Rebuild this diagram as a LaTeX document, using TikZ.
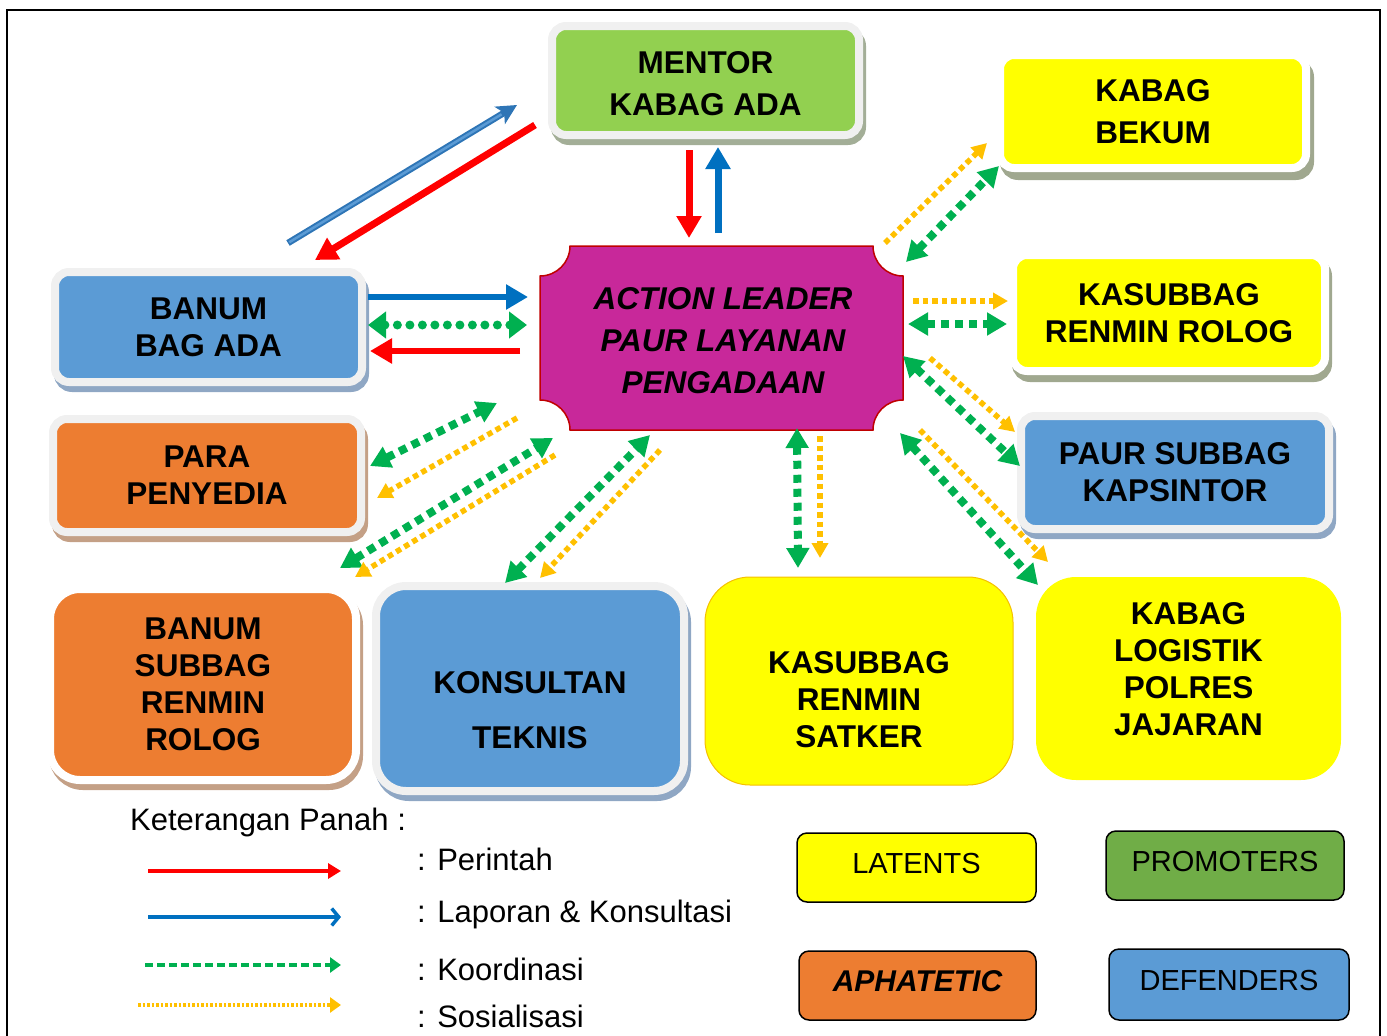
\documentclass[tikz,border=0pt]{standalone}
\usepackage{fontspec}
\setmainfont{Liberation Sans}
\usetikzlibrary{arrows.meta,shadows,calc}
\definecolor{cgreenbox}{HTML}{92D050}
\definecolor{cbluebox}{HTML}{5B9BD5}
\definecolor{corangebox}{HTML}{ED7D31}
\definecolor{cyellowbox}{HTML}{FFFF00}
\definecolor{cmag}{HTML}{C8289A}
\definecolor{cdarkred}{HTML}{C00000}
\definecolor{cprom}{HTML}{70AD47}
\definecolor{cred}{HTML}{FF0000}
\definecolor{cblue}{HTML}{0070C0}
\definecolor{cbluedark}{HTML}{2E75B6}
\definecolor{cgreenarr}{HTML}{00B050}
\definecolor{cyellarr}{HTML}{FFC000}
\definecolor{rimgray}{HTML}{F0F0F0}
\definecolor{shgreen}{HTML}{A3AE97}
\definecolor{shblue}{HTML}{8FA7C4}
\definecolor{shorange}{HTML}{C4A086}
\definecolor{shyellow}{HTML}{A0A88F}
\definecolor{satkerline}{HTML}{F5C000}
\newcommand\bxfont{\bfseries\fontsize{31.5}{37}\selectfont}
\newcommand\bxfontw{\bfseries\fontsize{31.5}{42}\selectfont}
\newcommand\alfont{\bfseries\itshape\fontsize{31.5}{42}\selectfont}
\newcommand\lgfont{\fontsize{29}{34}\selectfont}
\newcommand\kyfont{\fontsize{31}{37}\selectfont}
\begin{document}
\begin{tikzpicture}[x=1pt,y=1pt,
  panel/.style={rectangle, rounded corners=14pt, line width=8pt, outer sep=0pt, inner sep=0pt, align=center, font=\bxfont},
  shad/.style={drop shadow={shadow xshift=3pt, shadow yshift=-6pt, fill=#1, draw=#1, line width=8pt, opacity=1}},
  bigpanel/.style={rectangle, outer sep=0pt, inner sep=0pt, align=center},
  txt/.style={align=center, font=\bxfont, inner sep=0pt},
  legbox/.style={rectangle, rounded corners=10pt, draw=black, line width=1.5pt, minimum width=239pt, minimum height=69pt, font=\lgfont, inner sep=0pt, text depth=8pt},
  perintah/.style={draw=cred, line width=7pt, -{Triangle[length=22pt,width=24pt]}},
  laporan/.style={draw=cblue, line width=7pt, -{Triangle[length=22pt,width=24pt]}},
  koor/.style={draw=cgreenarr, line width=8pt, dash pattern=on 8pt off 6pt, {Triangle[length=20pt,width=22pt]}-{Triangle[length=20pt,width=22pt]}},
  sos/.style={draw=cyellarr, line width=5.5pt, dash pattern=on 5.5pt off 4pt, -{Triangle[length=15pt,width=16pt]}},
  keytext/.style={anchor=west, font=\kyfont, inner sep=0pt}
]
\useasboundingbox (0,0) rectangle (1387,-1036);
% frame
\draw[line width=2pt] (7,-1045) -- (7,-10) -- (1380,-10) -- (1380,-1045);

% boxes
\node[panel, fill=cgreenbox, draw=rimgray, shad=shgreen, minimum width=307pt, minimum height=109pt] (mentor) at (705.5,-80.5) {};
\node[txt, font=\bxfontw] (mentorT) at (705.5,-84) {MENTOR\\KABAG ADA};
\node[panel, fill=cyellowbox, draw=white, drop shadow={shadow xshift=4pt, shadow yshift=-8pt, fill=shyellow, draw=shyellow, line width=8pt, opacity=1}, minimum width=306pt, minimum height=113pt, font=\bxfontw] (bekum) at (1153,-111.5) {KABAG\\BEKUM};
\node[panel, fill=cyellowbox, draw=white, drop shadow={shadow xshift=3pt, shadow yshift=-7pt, fill=shyellow, draw=shyellow, line width=8pt, opacity=1}, minimum width=312pt, minimum height=116pt] (rolog) at (1169,-313) {KASUBBAG\\RENMIN ROLOG};
\node[panel, fill=cbluebox, draw=rimgray, shad=shblue, minimum width=308pt, minimum height=113pt] (kaps) at (1175,-472.5) {PAUR SUBBAG\\KAPSINTOR};
\node[panel, fill=cbluebox, draw=rimgray, shad=shblue, minimum width=307pt, minimum height=110pt] (banum) at (208.5,-327) {BANUM\\BAG ADA};
\node[panel, fill=corangebox, draw=rimgray, shad=shorange, minimum width=308pt, minimum height=113pt] (para) at (207,-475.5) {PARA\\PENYEDIA};
\node[panel, rounded corners=30pt, fill=corangebox, draw=white, shad=shorange, minimum width=306pt, minimum height=191pt] (bsub) at (203,-684.5) {BANUM\\SUBBAG\\RENMIN\\ROLOG};
\node[panel, rounded corners=30pt, fill=cbluebox, draw=rimgray, shad=shblue, minimum width=308pt, minimum height=205pt] (kons) at (530,-688.5) {};
\node[txt] (konsT) at (530,-710.5) {KONSULTAN\\[18pt]TEKNIS};
\node[bigpanel, rounded corners=45pt, fill=cyellowbox, draw=satkerline, line width=1pt, minimum width=308pt, minimum height=208pt] (satker) at (859,-681) {};
\node[txt] (satkerT) at (859,-700) {KASUBBAG\\RENMIN\\SATKER};
\node[bigpanel, rounded corners=40pt, fill=cyellowbox, minimum width=305pt, minimum height=203pt] (logis) at (1188.5,-678.5) {};
\node[txt] (logisT) at (1188.5,-669) {KABAG\\LOGISTIK\\POLRES\\JAJARAN};

% action leader
\draw[fill=cmag, draw=cdarkred, line width=1.5pt] (570,-246) -- (873,-246) arc[start angle=180,end angle=270,radius=30pt] -- (903,-400) arc[start angle=90,end angle=180,radius=30pt] -- (570,-430) arc[start angle=0,end angle=90,radius=30pt] -- (540,-276) arc[start angle=270,end angle=360,radius=30pt] -- cycle;
\node[bigpanel, minimum width=363pt, minimum height=184pt, font=\alfont] (al) at (721.5,-338) {};
\node[txt, font=\alfont] (alT) at (723,-341) {ACTION LEADER\\PAUR LAYANAN\\PENGADAAN};

% mentor <-> banum
\draw[draw=cbluedark, line width=6.5pt, -{Stealth[length=20pt,width=20pt,inset=5pt]}] ($(banum.north)+(79.5,29)$) -- ($(mentor.west)+(-35,-24.5)$);
\draw[draw=cbluebox, line width=2.5pt, shorten >=18pt, shorten <=1.5pt] ($(banum.north)+(79.5,29)$) -- ($(mentor.west)+(-35,-24.5)$);
\draw[perintah] ($(mentor.west)+(-17,-44.5)$) -- ($(banum.north)+(106.5,12)$);
% mentor <-> al
\draw[perintah] ($(mentor.south)+(-16.5,-15)$) -- ($(al.north)+(-32.5,8)$);
\draw[laporan] ($(al.north)+(-3.5,13)$) -- ($(mentor.south)+(12.5,-12)$);
% banum <-> al
\draw[laporan, line width=6pt] ($(banum.east)+(6,30)$) -- ($(al.west)+(-12,41)$);
\draw[draw=cgreenarr, line width=9pt, line cap=round, dash pattern=on 0pt off 12.5pt, {Triangle[length=18pt,width=26pt]}-{Triangle[length=18pt,width=26pt]}] ($(banum.east)+(6,2)$) -- ($(al.west)+(-13,13)$);
\draw[perintah, line width=6pt] ($(al.west)+(-20,-13)$) -- ($(banum.east)+(8,-24)$);
% para
\draw[koor] ($(para.east)+(9,9.5)$) -- ($(al.south west)+(-43,27)$);
\draw[sos] ($(al.south west)+(-23,12)$) -- ($(para.east)+(16,-22.5)$);
% banum subbag
\draw[koor] ($(bsub.north east)+(-16,21)$) -- ($(al.south west)+(13,-8)$);
\draw[sos] ($(al.south west)+(15,-25)$) -- ($(bsub.north east)+(-1,12)$);
% konsultan
\draw[koor] ($(kons.north)+(-25,3)$) -- ($(al.south)+(-71.5,-5)$);
\draw[sos] ($(al.south)+(-61.5,-20)$) -- ($(kons.north)+(10,8)$);
% satker
\draw[koor] ($(al.south)+(75.5,2)$) -- ($(satker.north)+(-61,9)$);
\draw[sos] ($(al.south)+(98.5,-6)$) -- ($(satker.north)+(-39,19)$);
% logistik
\draw[koor] ($(al.south east)+(-3,-3)$) -- ($(logis.north west)+(2,-8)$);
\draw[sos] ($(al.south east)+(17,0)$) -- ($(logis.north west)+(12,15)$);
% kapsintor
\draw[koor] ($(al.east)+(0,-18)$) -- ($(kaps.west)+(-1,6.5)$);
\draw[sos] ($(al.east)+(27,-20)$) -- ($(kaps.north west)+(-6,-16)$);
% renmin rolog
\draw[sos] ($(al.east)+(10,37)$) -- ($(rolog.west)+(-5,12)$);
\draw[koor] ($(al.east)+(5,14)$) -- ($(rolog.west)+(-6,-11)$);
% bekum
\draw[sos] ($(al.north east)+(-18,3)$) -- ($(bekum.south west)+(-13,25)$);
\draw[koor] ($(al.north east)+(3,-16)$) -- ($(bekum.south west)+(-1,2)$);

% legend
\node[anchor=west, font=\kyfont, inner sep=0pt] (ket) at (130,-822) {Keterangan Panah :};
\node[keytext] (k1) at (417,-859) {: Perintah};
\node[keytext] (k2) at (417,-914) {: Laporan \& Konsultasi};
\node[keytext] (k3) at (417,-969) {: Koordinasi};
\node[keytext] (k4) at (417,-1016) {: Sosialisasi};
\coordinate (l1a) at (148,-871); \coordinate (l1b) at (341,-871);
\coordinate (l2a) at (148,-917); \coordinate (l2b) at (341,-917);
\coordinate (l3a) at (145,-965); \coordinate (l3b) at (341,-965);
\coordinate (l4a) at (138,-1005); \coordinate (l4b) at (341,-1005);
\draw[draw=cred, line width=4pt, -{Triangle[length=13pt,width=15pt]}] (l1a) -- (l1b);
\draw[draw=cblue, line width=3.5pt, -{Straight Barb[length=7pt,width=17pt]}] (l2a) -- (l2b);
\draw[draw=cgreenarr, line width=3.5pt, dash pattern=on 8pt off 4pt, -{Triangle[length=11pt,width=15pt]}] (l3a) -- (l3b);
\draw[draw=cyellarr, line width=3.5pt, dash pattern=on 2.5pt off 2pt, -{Triangle[length=11pt,width=15pt]}] (l4a) -- (l4b);

\node[legbox, fill=cyellowbox] (lat) at (916.5,-867.5) {LATENTS};
\node[legbox, fill=cprom, minimum width=238pt] (prom) at (1225,-865.5) {PROMOTERS};
\node[legbox, fill=corangebox, minimum width=237pt, font=\bfseries\itshape\fontsize{30}{34}\selectfont] (aph) at (917.5,-985.5) {APHATETIC};
\node[legbox, fill=cbluebox, minimum width=240pt, minimum height=71pt] (def) at (1229,-984.5) {DEFENDERS};
\end{tikzpicture}
\end{document}
